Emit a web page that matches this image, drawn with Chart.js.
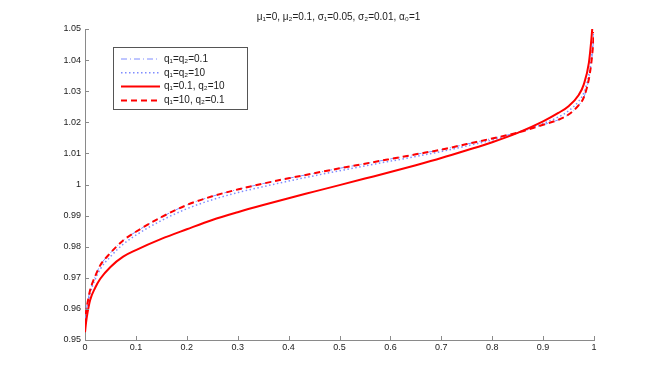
<!DOCTYPE html>
<html>
<head>
<meta charset="utf-8">
<script src="https://cdn.jsdelivr.net/npm/chart.js@4"></script>
<style>
  html, body { margin: 0; padding: 0; background: #fff; }
  #wrap { width: 654px; height: 382px; }
</style>
</head>
<body>
<div id="wrap"><canvas id="quantileChart"></canvas></div>
<script>
// values
const xs = [0, 0.002, 0.005, 0.01, 0.02, 0.03, 0.05, 0.075, 0.1, 0.15, 0.2, 0.25, 0.3, 0.35, 0.4, 0.45,
  0.5, 0.55, 0.6, 0.65, 0.7, 0.75, 0.8, 0.85, 0.9, 0.93, 0.95, 0.97, 0.98, 0.99, 0.995, 0.998, 1.0];

// q1=0.1, q2=10 (red solid)
const solidVals = [0.9525, 0.9555, 0.9588, 0.9628, 0.9668, 0.9697, 0.9735, 0.9768, 0.9789, 0.9825, 0.9856, 0.9886,
  0.9911, 0.9934, 0.9956, 0.9977, 0.9998, 1.0019, 1.0040, 1.0062, 1.0085, 1.0110, 1.0136, 1.0166, 1.0203, 1.0230,
  1.0252, 1.0288, 1.0322, 1.0392, 1.0470, 1.0530, null];

// q1=10, q2=0.1 (red dashed)
const dashedVals = [0.9550, 0.9590, 0.9620, 0.9660, 0.9705, 0.9740, 0.9780, 0.9820, 0.9848, 0.9895, 0.9934, 0.9962,
  0.9984, 1.0003, 1.0020, 1.0036, 1.0052, 1.0067, 1.0082, 1.0097, 1.0112, 1.0130, 1.0148, 1.0167, 1.0192, 1.0208,
  1.0225, 1.0255, 1.0280, 1.0340, 1.0395, 1.0445, 1.0490];

// q1=q2=10 (blue dotted)
const dottedVals = [0.9545, 0.9585, 0.9613, 0.9650, 0.9695, 0.9728, 0.9768, 0.9808, 0.9837, 0.9884, 0.9922, 0.9951,
  0.9974, 0.9993, 1.0011, 1.0028, 1.0044, 1.0060, 1.0075, 1.0090, 1.0106, 1.0124, 1.0143, 1.0166, 1.0196, 1.0217,
  1.0237, 1.0268, 1.0295, 1.0355, 1.0410, 1.0455, 1.0490];

// q1=q2=0.1 (blue dash-dot, hidden under the red dashed line)
const dashDotVals = [0.9550, 0.9590, 0.9620, 0.9660, 0.9705, 0.9740, 0.9780, 0.9820, 0.9848, 0.9895, 0.9934, 0.9962,
  0.9984, 1.0003, 1.0020, 1.0036, 1.0052, 1.0067, 1.0082, 1.0097, 1.0112, 1.0130, 1.0148, 1.0167, 1.0192, 1.0208,
  1.0225, 1.0255, 1.0280, 1.0340, 1.0395, 1.0445, 1.0490];

const seriesLabels = ['q\u2081=q\u2082=0.1', 'q\u2081=q\u2082=10', 'q\u2081=0.1, q\u2082=10', 'q\u2081=10, q\u2082=0.1'];
const titleText = '\u03bc\u2081=0, \u03bc\u2082=0.1, \u03c3\u2081=0.05, \u03c3\u2082=0.01, \u03b1\u2080=1';

const xTicks = [0, 0.1, 0.2, 0.3, 0.4, 0.5, 0.6, 0.7, 0.8, 0.9, 1];
const xTickLabels = ['0', '0.1', '0.2', '0.3', '0.4', '0.5', '0.6', '0.7', '0.8', '0.9', '1'];
const yTicks = [0.95, 0.96, 0.97, 0.98, 0.99, 1.0, 1.01, 1.02, 1.03, 1.04, 1.05];
const yTickLabels = ['0.95', '0.96', '0.97', '0.98', '0.99', '1', '1.01', '1.02', '1.03', '1.04', '1.05'];

const FONT = '"Liberation Sans", Arial, sans-serif';
const AXIS_COLOR = '#8a8a8a';

function toPoints(vals) {
  return xs.map((x, i) => ({ x: x, y: vals[i] }));
}

// title, inward tick marks and boxed legend, drawn on top of the chart
const decorPlugin = {
  id: 'decor',
  afterDraw(chart) {
    const ctx = chart.ctx;
    const area = chart.chartArea;
    const xScale = chart.scales.x;
    const yScale = chart.scales.y;

    ctx.save();
    // title
    ctx.fillStyle = '#222';
    ctx.font = '10px ' + FONT;
    ctx.textAlign = 'center';
    ctx.textBaseline = 'middle';
    ctx.fillText(titleText, (area.left + area.right) / 2 - 1, 17);

    // inward ticks
    ctx.strokeStyle = AXIS_COLOR;
    ctx.lineWidth = 1;
    ctx.beginPath();
    xTicks.forEach(v => {
      const px = Math.round(xScale.getPixelForValue(v)) + 0.5;
      ctx.moveTo(px, area.bottom);
      ctx.lineTo(px, area.bottom - 4);
    });
    yTicks.forEach(v => {
      const py = Math.round(yScale.getPixelForValue(v)) + 0.5;
      ctx.moveTo(area.left, py);
      ctx.lineTo(area.left + 4, py);
    });
    ctx.stroke();

    // legend
    const box = { x: 113.5, y: 47.5, w: 134, h: 62 };
    ctx.fillStyle = '#fff';
    ctx.fillRect(box.x, box.y, box.w, box.h);
    ctx.strokeStyle = '#555';
    ctx.lineWidth = 1;
    ctx.strokeRect(box.x, box.y, box.w, box.h);
    ctx.font = '10px ' + FONT;
    ctx.textAlign = 'left';
    chart.data.datasets.forEach((ds, i) => {
      const y = 59 + i * 13.8;
      ctx.strokeStyle = ds.borderColor;
      ctx.lineWidth = ds.borderWidth;
      ctx.setLineDash(ds.borderDash || []);
      ctx.beginPath();
      ctx.moveTo(121, y);
      ctx.lineTo(160, y);
      ctx.stroke();
      ctx.setLineDash([]);
      ctx.fillStyle = '#222';
      ctx.fillText(ds.label, 164, y);
    });
    ctx.restore();
  }
};

const ctx = document.getElementById('quantileChart');
new Chart(ctx, {
  type: 'line',
  data: {
    datasets: [
      { label: seriesLabels[0], data: toPoints(dashDotVals), borderColor: '#7f8cff', borderWidth: 1,
        borderDash: [6, 3, 1, 3], order: 4 },
      { label: seriesLabels[1], data: toPoints(dottedVals), borderColor: '#7f8cff', borderWidth: 1.5,
        borderDash: [1.5, 2.5], order: 3 },
      { label: seriesLabels[2], data: toPoints(solidVals), borderColor: '#ff0000', borderWidth: 2,
        order: 2 },
      { label: seriesLabels[3], data: toPoints(dashedVals), borderColor: '#ff0000', borderWidth: 2,
        borderDash: [6, 4], order: 1 }
    ]
  },
  options: {
    responsive: true,
    maintainAspectRatio: false,
    animation: false,
    events: [],
    elements: {
      point: { radius: 0 },
      line: { cubicInterpolationMode: 'monotone', fill: false }
    },
    layout: { padding: { top: 29, right: 60, bottom: 0, left: 0 } },
    plugins: {
      legend: { display: false },
      title: { display: false },
      tooltip: { enabled: false }
    },
    scales: {
      x: {
        type: 'linear',
        min: 0,
        max: 1,
        afterBuildTicks: scale => { scale.ticks = xTicks.map(v => ({ value: v })); },
        afterFit: scale => { scale.height = 42; },
        ticks: {
          autoSkip: false,
          maxRotation: 0,
          padding: 2,
          color: '#222',
          font: { family: FONT, size: 9 },
          callback: (v) => xTickLabels[xTicks.indexOf(v)]
        },
        grid: { drawOnChartArea: false, drawTicks: false },
        border: { display: true, color: AXIS_COLOR, width: 1 }
      },
      y: {
        type: 'linear',
        min: 0.95,
        max: 1.05,
        afterBuildTicks: scale => { scale.ticks = yTicks.map(v => ({ value: v })); },
        afterFit: scale => { scale.width = 85; },
        ticks: {
          autoSkip: false,
          padding: 4,
          color: '#222',
          font: { family: FONT, size: 9 },
          callback: (v) => yTickLabels[yTicks.findIndex(t => Math.abs(t - v) < 1e-9)]
        },
        grid: { drawOnChartArea: false, drawTicks: false },
        border: { display: true, color: AXIS_COLOR, width: 1 }
      }
    }
  },
  plugins: [decorPlugin]
});
</script>
</body>
</html>
